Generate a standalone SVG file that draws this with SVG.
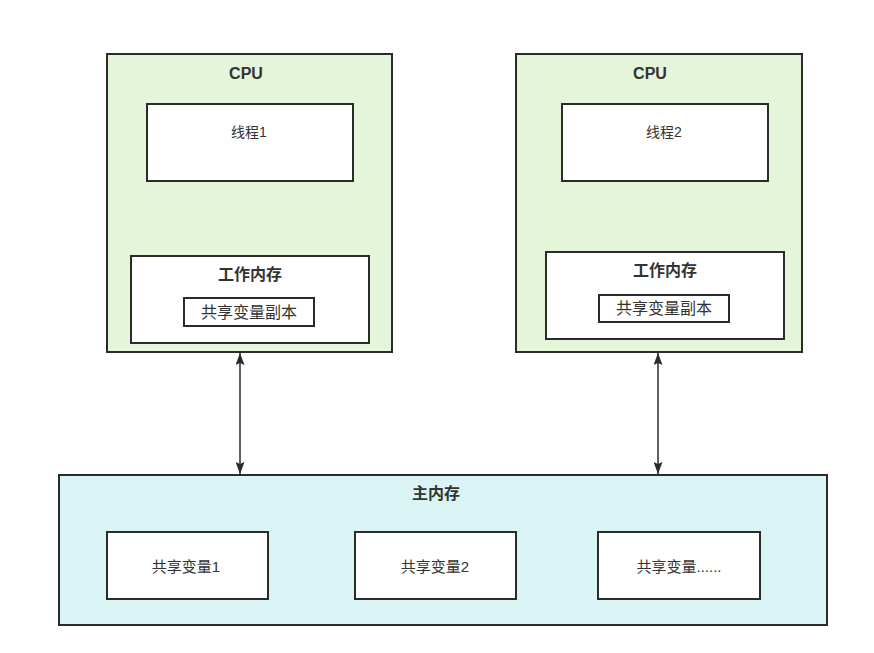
<svg xmlns="http://www.w3.org/2000/svg" width="874" height="653" viewBox="0 0 874 653">
<style>
.box{stroke:#2b2b2b;stroke-width:2}
.cpu{fill:#e4f5d9}
.mem{fill:#daf3f4}
.w{fill:#ffffff}
text{font-family:"Liberation Sans","Noto Sans CJK SC",sans-serif;font-size:15px;fill:#333333;text-anchor:middle;dominant-baseline:central}
.b{font-weight:bold;font-size:16px}
.t{font-size:14px}
.c{font-size:16px}
.conn{stroke:#2b2b2b;stroke-width:1.5;fill:none}
</style>
<defs>
<marker id="ah" viewBox="0 0 12 10" refX="12" refY="5" markerWidth="12" markerHeight="9" markerUnits="userSpaceOnUse" orient="auto-start-reverse" preserveAspectRatio="none">
<path d="M0,0 L12,5 L0,10 L2,5 Z" fill="#2b2b2b"/>
</marker>
</defs>
<rect width="874" height="653" fill="#ffffff"/>
<g id="cpu1">
<rect class="box cpu" x="107" y="54" width="285" height="298"/>
<text class="b" x="246" y="73">CPU</text>
<g id="thread1">
<rect class="box w" x="147" y="104" width="206" height="77"/>
<text class="t" x="249" y="132">线程1</text>
</g>
<g id="wm1">
<rect class="box w" x="131" y="256" width="238" height="87"/>
<text class="b" x="250" y="274">工作内存</text>
<g id="copy1">
<rect class="box w" x="184" y="298" width="130" height="28"/>
<text class="c" x="249" y="312">共享变量副本</text>
</g>
</g>
</g>
<g id="cpu2">
<rect class="box cpu" x="516" y="54" width="286" height="298"/>
<text class="b" x="650" y="73">CPU</text>
<g id="thread2">
<rect class="box w" x="562" y="104" width="206" height="77"/>
<text class="t" x="664" y="132">线程2</text>
</g>
<g id="wm2">
<rect class="box w" x="546" y="252" width="238" height="87"/>
<text class="b" x="665" y="270">工作内存</text>
<g id="copy2">
<rect class="box w" x="599" y="295" width="130" height="27"/>
<text class="c" x="664" y="308">共享变量副本</text>
</g>
</g>
</g>
<g id="mainmem">
<rect class="box mem" x="59" y="475" width="768" height="150"/>
<text class="b" x="436" y="493">主内存</text>
<g id="var1">
<rect class="box w" x="107" y="532" width="161" height="67"/>
<text x="186" y="566">共享变量1</text>
</g>
<g id="var2">
<rect class="box w" x="355" y="532" width="161" height="67"/>
<text x="435" y="566">共享变量2</text>
</g>
<g id="var3">
<rect class="box w" x="598" y="532" width="162" height="67"/>
<text x="679" y="566">共享变量......</text>
</g>
</g>
<g id="connectors">
<line class="conn" x1="240" y1="353" x2="240" y2="474" marker-start="url(#ah)" marker-end="url(#ah)"/>
<line class="conn" x1="658" y1="353" x2="658" y2="474" marker-start="url(#ah)" marker-end="url(#ah)"/>
</g>
</svg>
